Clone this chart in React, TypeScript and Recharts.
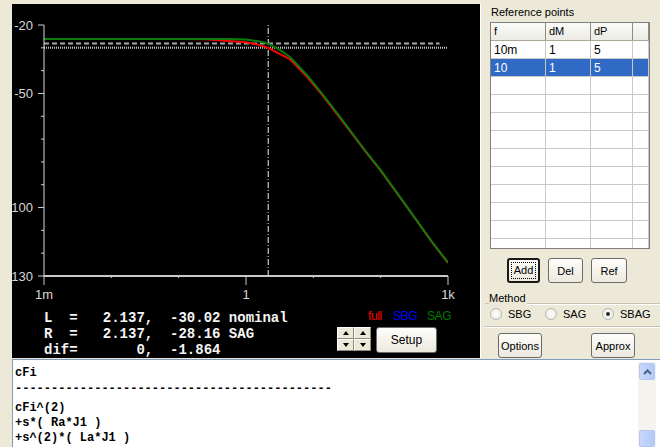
import React from 'react';
import { LineChart, Line, XAxis, YAxis, ReferenceLine } from 'recharts';

// magnitude traces (frequency in Hz, level in dB)
const fullFreq = [0.001, 0.01, 0.1, 0.25, 0.5, 1, 1.5, 2.137, 3, 4.5, 8, 14, 25, 63, 100, 250, 600, 1000];
const fullDb = [-26.1, -26.1, -26.1, -26.3, -26.9, -27.6, -28.6, -30.02, -32.3, -35.0, -42.6, -51.2, -60.8, -76.4, -83.8, -100.1, -115.8, -124.2];

const sagFreq = [0.001, 0.01, 0.1, 0.5, 1, 1.6, 2.137, 3, 4.5, 8, 14, 25, 63, 100, 250, 600, 1000];
const sagDb = [-26.1, -26.1, -26.1, -26.1, -26.4, -27.2, -28.16, -30.5, -34.0, -41.9, -50.7, -60.4, -76.2, -83.6, -99.9, -115.7, -124.0];

// cursor markers
const markerFreq = 2.137;
const nominalDb = -30.02;
const sagMarkDb = -28.16;
const dashEndFreq = 750;

// axes
const xTicks = [0.001, 0.01, 0.1, 1, 10, 100, 1000];
const xMajor = [0.001, 1, 1000];
const xMajorLabels = ['1m', '1', '1k'];
const yTicks = [-20, -30, -40, -50, -60, -70, -80, -90, -100, -110, -120, -130];
const yMajor = [-20, -50, -100, -130];
const yMajorLabels = ['-20', '-50', '100', '130'];

// readout + legend
const readout = [
  'L  =   2.137,  -30.02 nominal',
  'R  =   2.137,  -28.16 SAG',
  'dif=       0,  -1.864',
];
const legendNames = ['full', 'SBG', 'SAG'];
const legendColors = ['#ff0000', '#0000ff', '#007a00'];

// reference points table
const refF = ['10m', '10'];
const refDM = ['1', '1'];
const refDP = ['5', '5'];

// formula text box
const formulaLines = [
  'cFi',
  '--------------------------------------------',
  'cFi^(2)',
  '+s*( Ra*J1 )',
  '+s^(2)*( La*J1 )',
];
const formulaBaselines = [376, 392, 411, 426, 441];

const sans = '"Liberation Sans", Arial, sans-serif';
const mono = '"Liberation Mono", "DejaVu Sans Mono", monospace';

const YTick = (props: any) => {
  const { x, y, payload } = props;
  const i = yMajor.indexOf(payload.value);
  const len = i >= 0 ? 6 : 3;
  return (
    <g>
      <line x1={x - len} x2={x} y1={y} y2={y} stroke="#d0d0d0" />
      {i >= 0 && (
        <text x={x - 11} y={y + 4.5} textAnchor="end" fill="#d8d8d8" fontSize={13} fontFamily={sans}>
          {yMajorLabels[i]}
        </text>
      )}
    </g>
  );
};

const XTick = (props: any) => {
  const { x, y, payload } = props;
  const i = xMajor.indexOf(payload.value);
  const len = i >= 0 ? 9 : 2;
  return (
    <g>
      <line x1={x} x2={x} y1={y} y2={y + len} stroke="#c8c8c8" />
      {i >= 0 && (
        <text x={x} y={y + 23} textAnchor="middle" fill="#d8d8d8" fontSize={13} fontFamily={sans}>
          {xMajorLabels[i]}
        </text>
      )}
    </g>
  );
};

const Btn = ({ left, top, width, height, label, size = 11, isDefault = false }: any) => (
  <div
    style={{
      position: 'absolute', left, top, width, height, boxSizing: 'border-box',
      border: isDefault ? '2px solid #1a1a1a' : '1px solid #6b6b6b', borderRadius: 3,
      background: 'linear-gradient(#fdfdfb, #ece9de)', display: 'flex',
      alignItems: 'center', justifyContent: 'center', fontFamily: sans, fontSize: size, color: '#000',
    }}
  >
    {isDefault ? (
      <span style={{ border: '1px dotted #000', padding: '1px 2px', lineHeight: '13px' }}>{label}</span>
    ) : (
      label
    )}
  </div>
);

const SpinBtn = ({ left, top, up }: any) => (
  <div
    style={{
      position: 'absolute', left, top, width: 17, height: 12, boxSizing: 'border-box',
      background: '#ece9d8', borderTop: '1px solid #fff', borderLeft: '1px solid #fff',
      borderRight: '1px solid #8c8a80', borderBottom: '1px solid #8c8a80',
      display: 'flex', alignItems: 'center', justifyContent: 'center',
    }}
  >
    <div
      style={{
        width: 0, height: 0, borderLeft: '3px solid transparent', borderRight: '3px solid transparent',
        ...(up ? { borderBottom: '4px solid #000' } : { borderTop: '4px solid #000' }),
      }}
    />
  </div>
);

const Radio = ({ left, top, label, checked = false }: any) => (
  <div style={{ position: 'absolute', left, top, height: 13, display: 'flex', alignItems: 'center', fontFamily: sans, fontSize: 11 }}>
    <div
      style={{
        width: 12, height: 12, boxSizing: 'border-box', borderRadius: '50%', border: '1px solid #b8b8b0',
        background: 'radial-gradient(#ffffff, #e6e6e0)', display: 'flex', alignItems: 'center', justifyContent: 'center',
        marginRight: 6,
      }}
    >
      {checked && <div style={{ width: 4, height: 4, borderRadius: '50%', background: '#2a2a2a' }} />}
    </div>
    {label}
  </div>
);

export default function App() {
  const fullData = fullFreq.map((f, i) => ({ f, db: fullDb[i] }));
  const sagData = sagFreq.map((f, i) => ({ f, db: sagDb[i] }));

  const colEdges = [0, 55, 100, 142];
  const colWidths = [55, 45, 42, 16];
  const rowCount = 12;

  return (
    <div
      style={{
        position: 'absolute', left: 0, top: 0, width: 660, height: 447, background: '#ece9d8',
        overflow: 'hidden', fontFamily: sans, fontSize: 11,
      }}
    >
      {/* plot panel */}
      <div style={{ position: 'absolute', left: 12, top: 4, width: 468, height: 354, background: '#000', borderRight: '1px solid #fff' }}>
        <LineChart width={468} height={354} margin={{ top: 21, right: 32, bottom: 0, left: 0 }}>
          <XAxis
            dataKey="f" type="number" scale="log" domain={[0.001, 1000]} ticks={xTicks} interval={0}
            tick={XTick} tickLine={false} tickSize={0} tickMargin={0} height={82} allowDataOverflow
            axisLine={{ stroke: '#c8c8c8', strokeWidth: 2 }}
          />
          <YAxis
            type="number" domain={[-130, -20]} ticks={yTicks} interval={0}
            tick={YTick} tickLine={false} tickSize={0} tickMargin={0} width={32} allowDataOverflow
            axisLine={{ stroke: '#d8d8d8' }}
          />
          <ReferenceLine
            segment={[{ x: 0.001, y: sagMarkDb }, { x: dashEndFreq, y: sagMarkDb }]}
            stroke="#a8a8a8" strokeWidth={2} strokeDasharray="5 3"
          />
          <ReferenceLine y={nominalDb} stroke="#c8c8c8" strokeWidth={2} strokeDasharray="1 1" />
          <ReferenceLine x={markerFreq} stroke="#f0f0f0" strokeDasharray="6 2 1 2" />
          <Line data={fullData} dataKey="db" type="linear" stroke="#ff0000" strokeWidth={2} dot={false} isAnimationActive={false} />
          <Line data={sagData} dataKey="db" type="linear" stroke="#0b7d0b" strokeWidth={2} dot={false} isAnimationActive={false} />
        </LineChart>

        <svg width={468} height={354} style={{ position: 'absolute', left: 0, top: 0, pointerEvents: 'none' }}>
          {readout.map((t, i) => (
            <text key={i} x={32} y={318 + i * 16} fill="#f4f4f4" fontSize={14} fontWeight="bold" fontFamily={mono} style={{ whiteSpace: 'pre' }}>
              {t}
            </text>
          ))}
          {legendNames.map((n, i) => (
            <text key={n} x={[356, 381, 415][i]} y={316} fill={legendColors[i]} fontSize={12} letterSpacing={-0.4} fontFamily={sans}>
              {n}
            </text>
          ))}
        </svg>

        <SpinBtn left={325} top={323} up />
        <SpinBtn left={342} top={323} up />
        <SpinBtn left={325} top={335} />
        <SpinBtn left={342} top={335} />
        <Btn left={364} top={323} width={61} height={26} label="Setup" size={12} />
      </div>

      {/* reference points panel */}
      <div style={{ position: 'absolute', left: 491, top: 6, lineHeight: '13px', fontSize: 11 }}>Reference points</div>
      <div
        style={{
          position: 'absolute', left: 490, top: 22, width: 160, height: 227, boxSizing: 'border-box',
          border: '1px solid #7f7f7f', background: '#fff', overflow: 'hidden',
        }}
      >
        {/* header */}
        <div style={{ position: 'absolute', left: 0, top: 0, width: 158, height: 17, background: 'linear-gradient(#fbfbf9, #ebeae3)', borderBottom: '1px solid #aca899' }} />
        {['f', 'dM', 'dP', ''].map((h, c) => (
          <div
            key={c}
            style={{
              position: 'absolute', left: colEdges[c], top: 0, width: colWidths[c], height: 17, boxSizing: 'border-box',
              borderRight: '1px solid #8f8d80', paddingLeft: 3, lineHeight: '17px',
            }}
          >
            {h}
          </div>
        ))}
        {/* body */}
        {Array.from({ length: rowCount }).map((_, r) => {
          const sel = r === 1;
          const cells = [refF[r] || '', refDM[r] || '', refDP[r] || '', ''];
          return (
            <div key={r} style={{ position: 'absolute', left: 0, top: 18 + r * 18, width: 158, height: 18, background: sel ? '#316ac5' : '#fff', color: sel ? '#fff' : '#000' }}>
              {cells.map((t, c) => (
                <div
                  key={c}
                  style={{
                    position: 'absolute', left: colEdges[c], top: 0, width: colWidths[c], height: 18, boxSizing: 'border-box',
                    borderRight: '1px solid #c8c8c8', borderBottom: '1px solid #c8c8c8', paddingLeft: 3,
                    lineHeight: '18px', fontSize: 12,
                  }}
                >
                  {t}
                </div>
              ))}
            </div>
          );
        })}
      </div>

      <Btn left={507} top={258} width={33} height={25} label="Add" isDefault />
      <Btn left={548} top={258} width={35} height={25} label="Del" />
      <Btn left={591} top={258} width={36} height={25} label="Ref" />

      {/* method group */}
      <div style={{ position: 'absolute', left: 485, top: 303, width: 4, borderTop: '1px solid #c5c2b2' }} />
      <div style={{ position: 'absolute', left: 489, top: 292, lineHeight: '13px', fontSize: 11 }}>Method</div>
      <div style={{ position: 'absolute', left: 527, top: 303, width: 133, borderTop: '1px solid #c5c2b2', borderBottom: '1px solid #fff' }} />
      <Radio left={490} top={307} label="SBG" />
      <Radio left={545} top={307} label="SAG" />
      <Radio left={602} top={307} label="SBAG" checked />
      <div style={{ position: 'absolute', left: 485, top: 326, width: 175, borderTop: '1px solid #c5c2b2', borderBottom: '1px solid #fff' }} />

      <Btn left={498} top={333} width={44} height={25} label="Options" />
      <Btn left={591} top={333} width={44} height={25} label="Approx" />

      {/* formula text box */}
      <div
        style={{
          position: 'absolute', left: 12, top: 359, width: 648, height: 88, boxSizing: 'border-box',
          background: '#fff', borderTop: '1px solid #7f9db9', borderLeft: '1px solid #7f9db9',
        }}
      />
      <svg width={626} height={447} style={{ position: 'absolute', left: 0, top: 0, pointerEvents: 'none' }}>
        {formulaLines.map((t, i) => (
          <text key={i} x={15} y={formulaBaselines[i]} fill="#000" fontSize={12} fontWeight="bold" fontFamily={mono} style={{ whiteSpace: 'pre' }}>
            {t}
          </text>
        ))}
      </svg>
      {/* scrollbar */}
      <div style={{ position: 'absolute', left: 638, top: 362, width: 18, height: 85, background: '#f4f3ee' }} />
      <div
        style={{
          position: 'absolute', left: 639, top: 363, width: 16, height: 17, boxSizing: 'border-box', borderRadius: 2,
          border: '1px solid #b6c8f2', background: 'linear-gradient(90deg, #c8d8fc, #b4c9f7)',
          display: 'flex', alignItems: 'center', justifyContent: 'center',
        }}
      >
        <svg width={9} height={6}>
          <polyline points="1,5 4.5,1.5 8,5" fill="none" stroke="#4d6185" strokeWidth={2} />
        </svg>
      </div>
      <div
        style={{
          position: 'absolute', left: 639, top: 430, width: 16, height: 17, boxSizing: 'border-box', borderRadius: 2,
          border: '1px solid #b6c8f2', background: 'linear-gradient(90deg, #c8d8fc, #b4c9f7)',
        }}
      />
    </div>
  );
}
